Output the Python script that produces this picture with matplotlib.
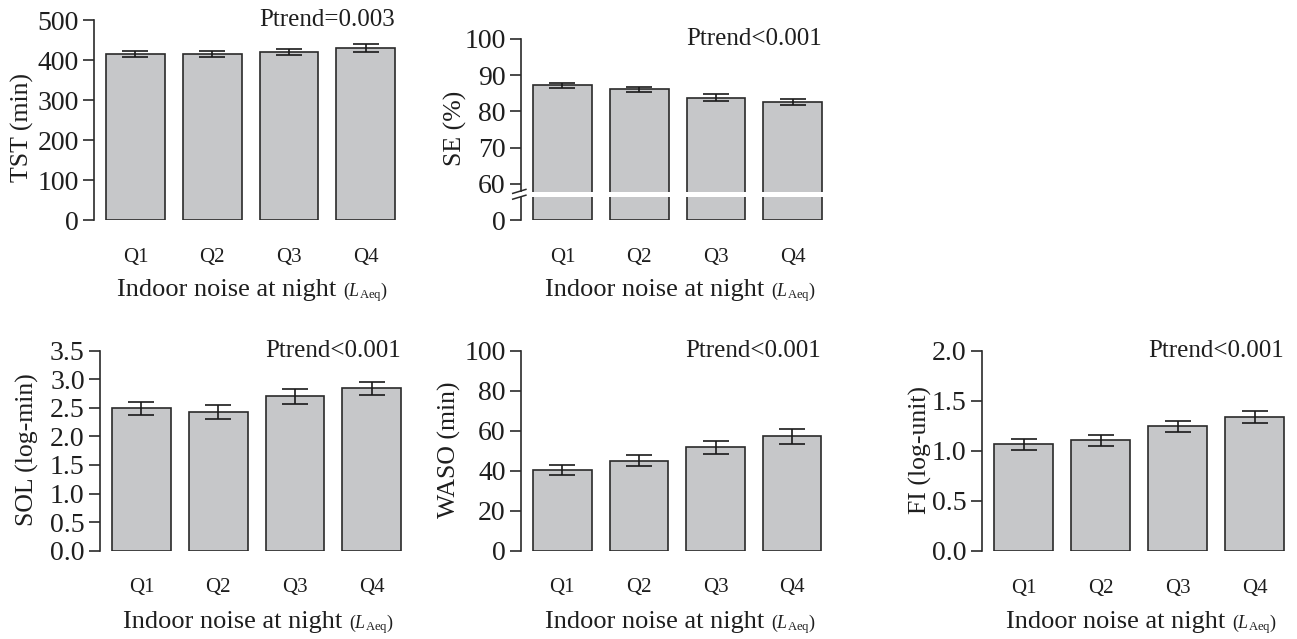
import matplotlib
matplotlib.use("Agg")
import matplotlib.pyplot as plt
import numpy as np
from matplotlib.transforms import blended_transform_factory

plt.rcParams['font.family'] = ['Liberation Serif', 'DejaVu Serif']
plt.rcParams['mathtext.fontset'] = 'custom'
plt.rcParams['mathtext.rm'] = 'Liberation Serif'
plt.rcParams['mathtext.it'] = 'Liberation Serif:italic'

# ---------------- data ----------------
quartiles = ["Q1", "Q2", "Q3", "Q4"]

tst_mean = [415, 415, 420, 431]
tst_err = [8, 8, 8, 10]

se_mean = [87.2, 86.1, 83.8, 82.6]
se_err = [0.7, 0.7, 0.9, 0.7]

sol_mean = [2.49, 2.43, 2.70, 2.84]
sol_err = [0.115, 0.125, 0.125, 0.12]

waso_mean = [40.5, 45.0, 51.7, 57.2]
waso_err = [2.5, 2.8, 3.2, 3.8]

fi_mean = [1.07, 1.11, 1.25, 1.34]
fi_err = [0.055, 0.055, 0.055, 0.06]

ptrend = ["Ptrend=0.003", "Ptrend<0.001", "Ptrend<0.001", "Ptrend<0.001", "Ptrend<0.001"]
ylabels = ["TST (min)", "SE (%)", "SOL (log-min)", "WASO (min)", "FI (log-unit)"]

W, H = 1297, 639
fig = plt.figure(figsize=(W / 100, H / 100), dpi=100)

BAR_FC = "#c6c7c9"
EDGE = "#2a2a2a"
TXT = "#1e1e1e"
XL = (-0.54, 3.45)
BW = 0.765


def px_axes(left, top, right, bottom):
    return fig.add_axes([left / W, 1 - bottom / H, (right - left) / W, (bottom - top) / H])


def style(ax, yticks, yticklabels):
    for s in ["top", "right", "bottom"]:
        ax.spines[s].set_visible(False)
    ax.spines["left"].set_color(EDGE)
    ax.spines["left"].set_linewidth(1.2)
    ax.set_xlim(*XL)
    ax.set_xticks(range(4))
    ax.set_xticklabels(quartiles, fontsize=15, color=TXT)
    ax.tick_params(axis="x", length=0, pad=20)
    ax.set_yticks(yticks)
    ax.set_yticklabels(yticklabels, fontsize=20, color=TXT)
    ax.tick_params(axis="y", length=8, width=1.2, color=EDGE, pad=3)


def bars(ax, mean, err):
    x = np.arange(4)
    ax.bar(x, mean, width=BW, color=BAR_FC, edgecolor=EDGE, linewidth=1.2, zorder=2)
    ax.errorbar(x, mean, yerr=err, fmt="none", ecolor="#1a1a1a", elinewidth=1.2,
                capsize=9.4, capthick=1.2, zorder=3)


def ptext(ax, txt, ytop):
    ax.text(3 + BW / 2, ytop, txt, ha="right", va="center", fontsize=18, color=TXT,
            clip_on=False, zorder=6)


def ylab(xpx, ycpx, txt):
    fig.text(xpx / W, 1 - ycpx / H, txt, rotation=90, ha="center", va="center",
             fontsize=18.5, color=TXT)


xlab_items = []


def xlab(xcpx, ycpx):
    t1 = fig.text(xcpx / W, 1 - ycpx / H, "Indoor noise at night ", ha="center", va="center",
                  fontsize=19, color=TXT)
    t2 = fig.text(0, 0, r"$\mathrm{(}L_{\mathrm{Aeq}}\mathrm{)}$", fontsize=13, color=TXT)
    xlab_items.append((t1, t2, xcpx, ycpx))


# ---- TST ----
ax1 = px_axes(94, 20, 94 + 3.99 * 76.8, 220)
bars(ax1, tst_mean, tst_err)
ax1.set_ylim(0, 500)
style(ax1, [0, 100, 200, 300, 400, 500], ["0", "100", "200", "300", "400", "500"])
ptext(ax1, ptrend[0], 500)
ylab(22, 128, ylabels[0])
xlab(252, 290)

# ---- SE (broken axis) ----
def fwd(y):
    y = np.asarray(y, dtype=float)
    return np.where(y < 60, 50 + y / 6.0, y)


def inv(f):
    f = np.asarray(f, dtype=float)
    return np.where(f < 60, (f - 50) * 6.0, f)


ax2 = px_axes(521, 39, 521 + 3.99 * 76.8, 220)
ax2.set_yscale("function", functions=(fwd, inv))
bars(ax2, se_mean, se_err)
ax2.set_ylim(0, 100)
style(ax2, [0, 60, 70, 80, 90, 100], ["0", "60", "70", "80", "90", "100"])
ax2.axhspan(float(inv(56.4)), float(inv(57.7)), xmin=-0.02, xmax=1.0, color="white",
            zorder=5, clip_on=False, linewidth=0)
btr = blended_transform_factory(ax2.transAxes, ax2.transData)
for f0 in (57.9, 56.3):
    ax2.plot([-0.027, 0.016], [float(inv(f0 - 0.55)), float(inv(f0 + 0.55))], color=EDGE,
             lw=1.1, transform=btr, clip_on=False, zorder=6)
ptext(ax2, ptrend[1], 100)
ylab(455, 128, ylabels[1])
xlab(680, 290)

# ---- SOL ----
ax3 = px_axes(100, 350.7, 100 + 3.99 * 76.8, 550.7)
bars(ax3, sol_mean, sol_err)
ax3.set_ylim(0, 3.5)
style(ax3, np.arange(0, 3.51, 0.5), ["%.1f" % v for v in np.arange(0, 3.51, 0.5)])
ptext(ax3, ptrend[2], 3.5)
ylab(27, 450, ylabels[2])
xlab(258, 622)

# ---- WASO ----
ax4 = px_axes(521, 350.7, 521 + 3.99 * 76.6, 550.7)
bars(ax4, waso_mean, waso_err)
ax4.set_ylim(0, 100)
style(ax4, [0, 20, 40, 60, 80, 100], ["0", "20", "40", "60", "80", "100"])
ptext(ax4, ptrend[3], 100)
ylab(449, 450, ylabels[3])
xlab(680, 622)

# ---- FI ----
ax5 = px_axes(982, 351, 982 + 3.99 * 77, 551)
bars(ax5, fi_mean, fi_err)
ax5.set_ylim(0, 2.0)
style(ax5, [0, 0.5, 1.0, 1.5, 2.0], ["0.0", "0.5", "1.0", "1.5", "2.0"])
ptext(ax5, ptrend[4], 2.0)
ylab(920, 450, ylabels[4])
xlab(1141, 622)

# position the composite x labels
r = fig.canvas.get_renderer()
for t1, t2, xc, yc in xlab_items:
    b1 = t1.get_window_extent(r)
    b2 = t2.get_window_extent(r)
    total = b1.width + b2.width
    left = xc - total / 2
    t1.set_ha("left")
    t1.set_position((left / W, 1 - yc / H))
    b1 = t1.get_window_extent(r)
    t2.set_va("baseline")
    t2.set_position(((left + b1.width) / W, (b1.y0 + 5) / H))

fig.savefig("out.png", dpi=100)
